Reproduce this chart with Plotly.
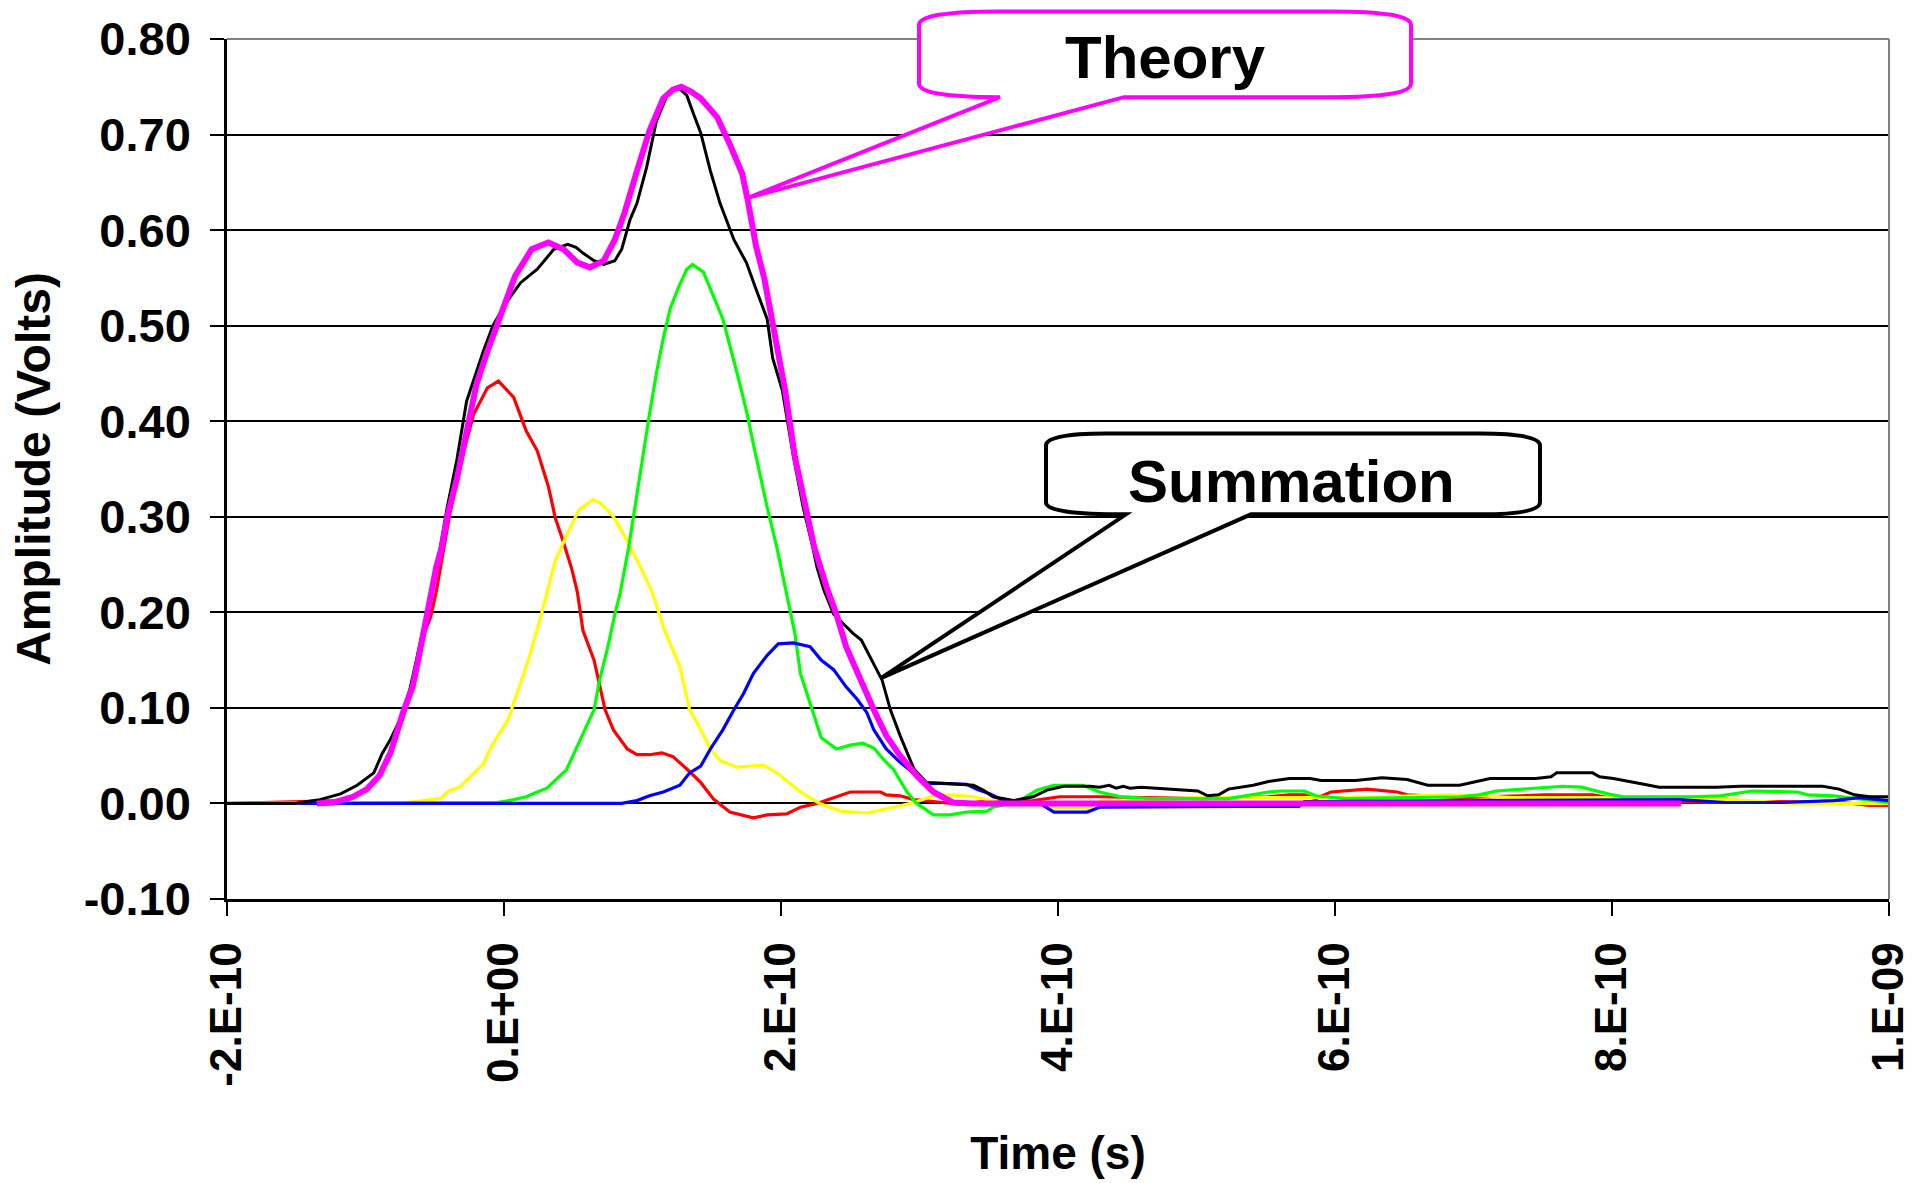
import numpy as np
import plotly.graph_objects as go

# ---------------- data (time in picoseconds, amplitude in volts) ----------------
t_red = [-200, -120, -110, -100, -94, -89, -82, -73, -66, -61, -57, -53, -49, -39, -29, -22, -12, -4,
         7, 16, 24, 32, 37, 43, 49, 53, 57, 65, 69, 73, 79, 89, 96, 105, 114, 122, 132, 142, 151, 163,
         180, 190, 204, 214, 226, 243, 250, 272, 276, 286, 296, 310, 329, 346, 382, 401, 430, 504, 552,
         567, 578, 586, 597, 623, 645, 652, 690, 734, 752, 786, 801, 838, 875, 912, 967, 986, 1000]
v_red = [0.0, 0.003, 0.007, 0.014, 0.022, 0.030, 0.050, 0.090, 0.120, 0.155, 0.180, 0.195, 0.221, 0.304,
         0.369, 0.407, 0.435, 0.442, 0.425, 0.390, 0.369, 0.332, 0.299, 0.273, 0.245, 0.221, 0.181, 0.150,
         0.122, 0.098, 0.077, 0.057, 0.051, 0.051, 0.053, 0.049, 0.036, 0.022, 0.005, -0.009, -0.015,
         -0.012, -0.011, -0.004, 0.000, 0.008, 0.012, 0.012, 0.009, 0.008, 0.004, 0.002, -0.001, 0.002,
         0.003, 0.007, 0.007, 0.005, 0.007, 0.009, 0.009, 0.005, 0.012, 0.015, 0.012, 0.009, 0.006, 0.008,
         0.009, 0.009, 0.005, 0.002, 0.001, 0.002, 0.001, -0.002, -0.002]

t_yellow = [-200, -71, -46, -40, -32, -15, -9, 3, 12, 19, 27, 31, 37, 45, 54, 64, 70, 79, 87, 98, 103, 107,
            116, 127, 134, 141, 149, 156, 168, 187, 197, 214, 228, 243, 262, 273, 281, 296, 310, 324, 339,
            358, 382, 397, 421, 430, 504, 578, 634, 682, 708, 727, 801, 815, 856, 875, 930, 1000]
v_yellow = [0.0, 0.001, 0.005, 0.013, 0.017, 0.041, 0.060, 0.088, 0.126, 0.157, 0.198, 0.221, 0.254, 0.280,
            0.307, 0.318, 0.314, 0.300, 0.280, 0.249, 0.233, 0.221, 0.181, 0.143, 0.098, 0.080, 0.057, 0.045,
            0.038, 0.040, 0.032, 0.012, 0.000, -0.008, -0.010, -0.007, -0.004, 0.001, 0.008, 0.009, 0.007,
            0.001, 0.000, -0.005, -0.005, 0.002, 0.006, 0.006, 0.007, 0.009, 0.008, 0.006, 0.006, 0.007,
            0.007, 0.005, 0.000, 0.000]

t_green = [-200, -5, 7, 16, 24, 31, 45, 53, 59, 65, 69, 75, 80, 84, 90, 98, 105, 110, 115, 120, 126, 132,
           136, 144, 158, 168, 175, 182, 190, 197, 205, 210, 214, 221, 229, 240, 250, 259, 267, 274, 281,
           291, 298, 310, 322, 334, 349, 353, 370, 385, 397, 418, 430, 445, 467, 523, 538, 552, 560, 578,
           586, 608, 690, 704, 716, 752, 764, 778, 797, 808, 856, 878, 901, 934, 941, 960, 978, 1000]
v_green = [0.0, 0.001, 0.004, 0.007, 0.012, 0.016, 0.035, 0.060, 0.079, 0.098, 0.129, 0.164, 0.198, 0.221,
           0.268, 0.345, 0.407, 0.450, 0.487, 0.518, 0.540, 0.559, 0.564, 0.556, 0.507, 0.452, 0.411, 0.363,
           0.310, 0.268, 0.212, 0.178, 0.136, 0.105, 0.069, 0.057, 0.061, 0.063, 0.058, 0.046, 0.036, 0.012,
           0.000, -0.012, -0.012, -0.009, -0.008, -0.004, 0.001, 0.014, 0.019, 0.019, 0.012, 0.007, 0.005,
           0.005, 0.009, 0.012, 0.013, 0.013, 0.008, 0.005, 0.007, 0.009, 0.013, 0.017, 0.018, 0.017, 0.010,
           0.007, 0.007, 0.008, 0.013, 0.012, 0.009, 0.008, 0.005, 0.001]

t_blue = [-148, 85, 96, 105, 115, 127, 134, 142, 149, 158, 166, 173, 180, 190, 198, 209, 221, 229, 238, 247,
          255, 262, 267, 276, 286, 296, 305, 315, 334, 341, 351, 358, 373, 387, 397, 421, 430, 530, 574, 578,
          812, 849, 882, 923, 960, 978, 1000]
v_blue = [0.0, 0.0, 0.003, 0.008, 0.012, 0.019, 0.032, 0.039, 0.057, 0.077, 0.098, 0.115, 0.136, 0.155, 0.167,
          0.168, 0.164, 0.150, 0.140, 0.122, 0.109, 0.095, 0.077, 0.057, 0.043, 0.031, 0.021, 0.021, 0.020,
          0.015, 0.010, 0.005, 0.001, 0.000, -0.009, -0.009, -0.004, -0.003, -0.003, 0.002, 0.004, 0.004,
          0.001, 0.001, 0.003, 0.006, 0.003]

t_sum = [-200, -150, -147, -133, -118, -106, -94, -88, -82, -75, -68, -61, -56, -51, -46, -41, -34, -27, -15,
         -8, 2, 12, 24, 36, 46, 52, 57, 65, 72, 80, 85, 91, 96, 103, 110, 118, 126, 132, 137, 142, 149, 156,
         166, 175, 182, 190, 194, 201, 209, 216, 223, 226, 231, 238, 245, 252, 258, 264, 273, 279, 286, 296,
         305, 320, 339, 346, 353, 368, 382, 392, 404, 423, 430, 437, 442, 447, 452, 460, 486, 501, 508, 516,
         523, 541, 552, 567, 582, 590, 615, 634, 652, 667, 690, 704, 712, 745, 756, 760, 786, 791, 801, 823,
         834, 875, 893, 952, 964, 975, 986, 1000]
v_sum = [0.0, 0.0, 0.001, 0.004, 0.010, 0.019, 0.032, 0.052, 0.067, 0.088, 0.119, 0.164, 0.198, 0.226, 0.268,
         0.310, 0.360, 0.421, 0.473, 0.500, 0.525, 0.545, 0.559, 0.580, 0.585, 0.582, 0.576, 0.568, 0.564,
         0.568, 0.580, 0.611, 0.628, 0.666, 0.714, 0.742, 0.749, 0.741, 0.721, 0.702, 0.662, 0.628, 0.590,
         0.566, 0.538, 0.507, 0.466, 0.432, 0.363, 0.310, 0.268, 0.247, 0.223, 0.198, 0.188, 0.178, 0.171,
         0.154, 0.129, 0.098, 0.071, 0.036, 0.022, 0.021, 0.019, 0.014, 0.007, 0.003, 0.007, 0.014, 0.018,
         0.018, 0.017, 0.019, 0.016, 0.018, 0.016, 0.017, 0.014, 0.013, 0.008, 0.009, 0.015, 0.019, 0.023,
         0.026, 0.026, 0.024, 0.024, 0.027, 0.025, 0.019, 0.019, 0.023, 0.026, 0.026, 0.028, 0.032, 0.032,
         0.028, 0.026, 0.020, 0.017, 0.017, 0.018, 0.018, 0.015, 0.009, 0.007, 0.007]

t_theory = [-135, -123, -109, -99, -90, -82, -73, -66, -61, -57, -53, -49, -45, -41, -34, -27, -20, -13, -5,
            2, 8, 20, 32, 43, 53, 62, 72, 80, 87, 96, 105, 115, 122, 128, 135, 142, 154, 163, 172, 176, 182,
            188, 194, 203, 210, 217, 224, 233, 240, 247, 257, 267, 276, 286, 298, 310, 324, 339, 850]
v_theory = [0.0, 0.001, 0.007, 0.015, 0.029, 0.053, 0.095, 0.122, 0.157, 0.188, 0.223, 0.247, 0.268, 0.300,
            0.340, 0.390, 0.438, 0.469, 0.502, 0.528, 0.552, 0.580, 0.587, 0.580, 0.566, 0.561, 0.568, 0.590,
            0.618, 0.662, 0.704, 0.738, 0.747, 0.750, 0.745, 0.738, 0.718, 0.690, 0.659, 0.631, 0.583, 0.549,
            0.504, 0.432, 0.363, 0.315, 0.268, 0.226, 0.198, 0.164, 0.129, 0.098, 0.071, 0.050, 0.029, 0.012,
            0.001, 0.0, 0.0]

x_tick_vals = [-2e-10, 0.0, 2e-10, 4e-10, 6e-10, 8e-10, 1e-9]
x_tick_text = ["-2.E-10", "0.E+00", "2.E-10", "4.E-10", "6.E-10", "8.E-10", "1.E-09"]
y_tick_vals = [-0.1, 0.0, 0.1, 0.2, 0.3, 0.4, 0.5, 0.6, 0.7, 0.8]
y_tick_text = ["-0.10", "0.00", "0.10", "0.20", "0.30", "0.40", "0.50", "0.60", "0.70", "0.80"]

# ---------------- figure ----------------
W, H = 1927, 1183
PL, PR, PT, PB = 227, 1889, 36, 908  # plot area in pixels
FONT = "Liberation Sans, Arial, sans-serif"

series = [
    (t_red, v_red, "#FF0000", 3.2),
    (t_yellow, v_yellow, "#FFFF00", 3.2),
    (t_green, v_green, "#00FF00", 3.2),
    (t_blue, v_blue, "#0000FF", 3.2),
    (t_sum, v_sum, "#000000", 3.0),
    (t_theory, v_theory, "#FF00FF", 6),
]

fig = go.Figure()
for t, v, c, w in series:
    fig.add_trace(go.Scatter(x=np.array(t, dtype=float) * 1e-12, y=v, mode="lines",
                             line=dict(color=c, width=w), showlegend=False, hoverinfo="skip"))


def px(x):
    return (x - PL) / (PR - PL)


def py(y):
    return (PB - y) / (PB - PT)


def callout(L, R, T, B, cx, cy, w1, w2, tip):
    def P(x, y):
        return f"{px(x):.5f},{py(y):.5f}"
    p = f"M {P(L, T + cy)} Q {P(L, T)} {P(L + cx, T)} L {P(R - cx, T)} Q {P(R, T)} {P(R, T + cy)} "
    p += f"L {P(R, B - cy)} Q {P(R, B)} {P(R - cx, B)} L {P(w2, B)} L {P(tip[0], tip[1])} L {P(w1, B)} "
    p += f"Q {P(L, B)} {P(L, B - cy)} Z"
    return p


shapes = [
    dict(type="line", xref="paper", yref="paper", x0=0, x1=1, y0=1, y1=1,
         line=dict(color="#808080", width=2)),
    dict(type="line", xref="paper", yref="paper", x0=1, x1=1, y0=0, y1=1,
         line=dict(color="#808080", width=2)),
    dict(type="path", xref="paper", yref="paper",
         path=callout(919, 1411, 8, 95, 80, 14, 1000, 1124, (748, 197)),
         fillcolor="white", line=dict(color="#FF00FF", width=4)),
    dict(type="path", xref="paper", yref="paper",
         path=callout(1046, 1540, 436, 518, 60, 12, 1126, 1251, (881, 684)),
         fillcolor="white", line=dict(color="#000000", width=4)),
]

annotations = [
    dict(text="Theory", xref="paper", yref="paper", x=px(1165), y=py(55), showarrow=False,
         xanchor="center", yanchor="middle", font=dict(family=FONT, size=60, color="black", weight="bold")),
    dict(text="Summation", xref="paper", yref="paper", x=px(1291), y=py(485), showarrow=False,
         xanchor="center", yanchor="middle", font=dict(family=FONT, size=60, color="black", weight="bold")),
]

fig.update_layout(
    width=W, height=H,
    margin=dict(l=PL, r=W - PR, t=PT, b=H - PB, pad=0),
    paper_bgcolor="white", plot_bgcolor="white",
    font=dict(family=FONT, color="black", weight="bold"),
    shapes=shapes, annotations=annotations,
    xaxis=dict(
        range=[-2e-10, 1e-9], tickmode="array", tickvals=x_tick_vals, ticktext=x_tick_text,
        tickangle=-90, ticks="outside", ticklen=14, tickwidth=2, tickcolor="black",
        showline=True, linecolor="black", linewidth=2.5, showgrid=False, zeroline=False,
        tickfont=dict(family=FONT, size=44, color="black", weight="bold"),
        ticklabelstandoff=9,
        title=dict(text="Time (s)", font=dict(family=FONT, size=46, color="black", weight="bold"),
                   standoff=52),
    ),
    yaxis=dict(
        range=[-0.1, 0.8], tickmode="array", tickvals=y_tick_vals, ticktext=y_tick_text,
        ticks="outside", ticklen=14, tickwidth=2, tickcolor="black",
        showline=True, linecolor="black", linewidth=2.5,
        showgrid=True, gridcolor="black", gridwidth=1.7, zeroline=False,
        tickfont=dict(family=FONT, size=47, color="black", weight="bold"),
        ticklabelstandoff=10,
        title=dict(text="Amplitude (Volts)", font=dict(family=FONT, size=48, color="black", weight="bold"),
                   standoff=18),
    ),
)

fig.write_html("out.html")
